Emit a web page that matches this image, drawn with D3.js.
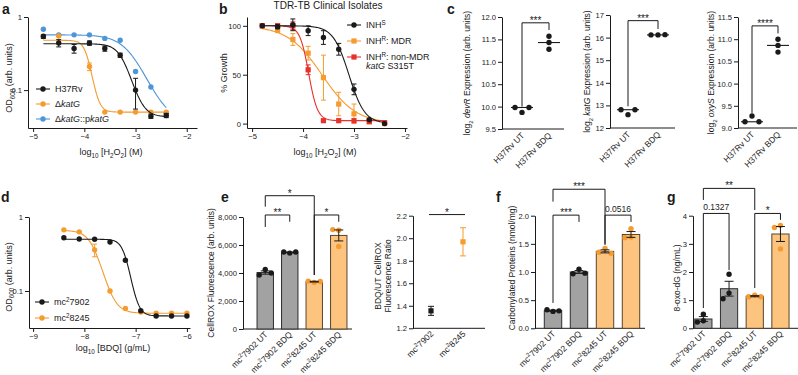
<!DOCTYPE html>
<html><head><meta charset="utf-8">
<script src="https://cdn.jsdelivr.net/npm/d3@7"></script>
<style>
body{margin:0;background:#fff}
svg{font-family:"Liberation Sans",Arial,Helvetica,sans-serif;fill:#1a1a1a}
.axis path,.axis line{stroke:#1a1a1a;stroke-width:1}
.axis text{font-size:7.6px;font-family:"Liberation Sans",Arial,sans-serif;fill:#1a1a1a}
</style></head><body>
<script>
// ---------------- data ----------------
// a : OD600 vs log10 [H2O2]
const aDose = [-4.8,-4.5,-4.2,-3.9,-3.6,-3.3,-3.0,-2.7,-2.4];
const aH37Rv    = [0.54,0.44,0.37,0.44,0.37,0.30,0.10,0.044,0.045];
const aH37RvErr = [0.03,0.05,0.05,0.03,0.03,0.02,0.045,0.003,0.003];
const aKatG     = [0.55,0.55,null,0.21,0.05,0.05,0.05,0.05,0.05];
const aKatGErr  = [0,0,0,0.025,0,0,0,0,0];
const aComp     = [0.68,0.57,0.57,0.57,0.51,0.48,0.18,0.11,0.048];
// fitted curves: top, bottom, logIC50, hill slope
const aFitH37Rv = [0.43,0.043,-3.22,3.5];
const aFitKatG  = [0.48,0.05,-3.93,6];
const aFitComp  = [0.57,0.035,-3.08,2.0];

// b : % growth of clinical isolates
const bDose = [-4.8,-4.5,-4.2,-3.9,-3.6,-3.3,-3.0,-2.7,-2.4];
const bS      = [100,99,101,95,88,76,35,4,0];
const bSErr   = [0,2,6,5,7,6,5.5,1,0];
const bMDR    = [100,96,86,72,47,20,10,2,0];
const bMDRErr = [0,3,6,7,23,12,10,2,0];
const bNon    = [100,100,100,55,3,3,3,2,1];
const bNonErr = [0,2,4,5,1,0,0,0,0];
const bFitS   = [100,0,-3.1,2.8];
const bFitMDR = [100,0,-3.63,1.3];
const bFitNon = [100,3,-3.89,5];

// c : log2 expression
const cCats = ["H37Rv UT","H37Rv BDQ"];
const cDevR = [[9.87,9.98,9.98],[11.57,11.43,11.28]];
const cKatG = [[12.59,12.81,12.81],[16.12,16.12,16.13]];
const cOxyS = [[9.27,9.14,9.14],[11.00,10.86,10.71]];
// bracket: top, left leg end, right leg end, label
const cDevRSig = [11.87,10.0,11.71,"***"];
const cKatGSig = [16.75,12.96,16.38,"***"];
const cOxySSig = [11.30,9.34,11.13,"****"];

// d : OD600 vs log10 [BDQ]
const dDose = [-8.4,-8.1,-7.8,-7.5,-7.2,-6.9,-6.6,-6.3,-6.0];
const d7902 = [0.525,0.505,0.50,0.46,0.26,0.054,0.046,0.046,0.046];
const d8245 = [0.67,0.63,0.36,0.10,0.058,0.052,0.05,0.05,0.05];
const d8245Err = [0,0,0.07,0,0,0,0,0,0];
const dFit7902 = [0.50,0.046,-7.19,5.5];
const dFit8245 = [0.66,0.05,-7.8,3.5];

// e/f/g : bar charts with replicate points
const barCats = ["mc^{2}7902 UT","mc^{2}7902 BDQ","mc^{2}8245 UT","mc^{2}8245 BDQ"];
const eVals = [[4250,3850,4000],[5420,5500,5500],[3330,3420,3390],[7050,5900,7100]];
const eSig  = [[0,2,9521,8736,3857,"*"],[0,1,8143,7286,7660,"**"],[2,3,8143,3857,7660,"*"]];
const ratioCats = ["mc^{2}7902","mc^{2}8245"];
const ratioMean = [1.355,1.968];
const ratioSem  = [0.04,0.125];
const fVals = [[0.30,0.33,0.31],[1.05,0.97,0.98],[1.42,1.35,1.33],[1.77,1.62,1.61]];
const fSig  = [[0,2,2.47,2.25,1.48,"***"],[0,1,2.01,0.45,1.89,"***"],[2,3,2.01,1.50,1.89,"0.0516"]];
const gVals = [[0.50,0.27,0.22],[1.92,1.25,1.05],[1.18,1.12,1.12],[3.65,3.58,2.82]];
const gSig  = [[0,2,4.97,4.56,4.2,"**"],[0,1,4.08,0.72,2.07,"0.1327"],[2,3,4.08,1.43,3.85,"*"]];

// ---------------- styles ----------------
const BLACK="#1a1a1a", ORANGE="#f59b2f", BLUE="#4e96d8", RED="#e8302c";
const GREY="#a2a2a2", LORANGE="#fdc47f";
const barFill = [GREY,GREY,LORANGE,LORANGE];
const barDot = [BLACK,BLACK,ORANGE,ORANGE];
const barEdge = ["#2e2e2e","#2e2e2e","#5a4529","#5a4529"];

const svg = d3.select("body").append("svg").attr("width",798).attr("height",375);

// text with _{sub} ^{sup} *italic*
function rich(t, str, fs){
  const re=/(_\{[^}]*\}|\^\{[^}]*\}|\*[^*]+\*)/g;
  let shift=0;
  str.split(re).filter(s=>s).forEach(tok=>{
    const s=t.append("tspan"); let want=0, txt=tok;
    if(tok.startsWith("_{")){want=fs*0.3; txt=tok.slice(2,-1); s.attr("font-size",fs*0.7);}
    else if(tok.startsWith("^{")){want=-fs*0.4; txt=tok.slice(2,-1); s.attr("font-size",fs*0.7);}
    else if(/^\*[^*]+\*$/.test(tok)){txt=tok.slice(1,-1); s.attr("font-style","italic");}
    if(want-shift!==0) s.attr("dy",want-shift);
    shift=want; s.text(txt);
  });
  return t;
}
function label(x,y,str,fs,opt){
  opt=opt||{};
  const t=svg.append("text").attr("font-size",fs).attr("text-anchor",opt.anchor||"middle")
    .attr("transform",`translate(${x},${y})`+(opt.rot?` rotate(${opt.rot})`:""));
  if(opt.bold) t.attr("font-weight","bold");
  if(opt.plain) return t.text(str);
  return rich(t,str,fs);
}
function yAxis(y,x,ticks,fmt){
  svg.append("g").attr("class","axis").attr("transform",`translate(${x},0)`)
    .call(d3.axisLeft(y).tickValues(ticks).tickFormat(fmt).tickSize(4).tickPadding(2).tickSizeOuter(0));
}
function xAxis(x,y,ticks,fmt){
  svg.append("g").attr("class","axis").attr("transform",`translate(0,${y})`)
    .call(d3.axisBottom(x).tickValues(ticks).tickFormat(fmt).tickSize(4).tickPadding(2).tickSizeOuter(0));
}
function hline(x1,x2,y){
  svg.append("line").attr("x1",x1).attr("x2",x2).attr("y1",y).attr("y2",y).attr("stroke",BLACK);
}
function marker(g,cx,cy,color,shape){
  if(shape==="sq") g.append("rect").attr("x",cx-2.6).attr("y",cy-2.6).attr("width",5.2).attr("height",5.2).attr("fill",color);
  else g.append("circle").attr("cx",cx).attr("cy",cy).attr("r",2.7).attr("fill",color);
}
function errBar(g,x0,y1,y2,color,w){
  g.append("path").attr("d",`M${x0-w},${y1}H${x0+w}M${x0},${y1}V${y2}M${x0-w},${y2}H${x0+w}`)
    .attr("stroke",color).attr("fill","none").attr("stroke-width",1);
}
function sigmoid(p,v){ return p[1]+(p[0]-p[1])/(1+Math.pow(10,(v-p[2])*p[3])); }
function doseSeries(x,y,dose,vals,errs,fit,color,shape){
  const g=svg.append("g");
  const xs=d3.range(dose[0],dose[dose.length-1]+0.001,0.02);
  g.append("path").datum(xs).attr("fill","none").attr("stroke",color).attr("stroke-width",1.1)
    .attr("d",d3.line().x(d=>x(d)).y(d=>y(sigmoid(fit,d))));
  dose.forEach((d,i)=>{
    if(vals[i]==null) return;
    const e=errs?errs[i]:0;
    if(e>0) errBar(g,x(d),y(vals[i]+e),y(Math.max(vals[i]-e,y.domain()[0])),color,2.5);
    marker(g,x(d),y(vals[i]),color,shape);
  });
}
function legendRow(x0,yy,color,shape,str,fs){
  svg.append("line").attr("x1",x0).attr("x2",x0+14).attr("y1",yy).attr("y2",yy).attr("stroke",color).attr("stroke-width",1.1);
  marker(svg,x0+7,yy,color,shape);
  label(x0+19,yy+3.2,str,fs,{anchor:"start"});
}
// simple beeswarm: spread overlapping points sideways
function swarm(vals,y,cx,minD,step){
  const placed=[];
  return vals.map(v=>{
    const py=y(v), cands=[0];
    for(let k=1;k<6;k++) cands.push(-k*step,k*step);
    for(const dx of cands){
      if(placed.every(p=>Math.hypot(p[0]-dx,p[1]-py)>=minD)){placed.push([dx,py]);return [cx+dx,py];}
    }
  });
}
function bracket(x1,x2,yTop,y1,y2,txt){
  svg.append("path").attr("d",`M${x1},${y1}V${yTop}H${x2}V${y2}`).attr("fill","none").attr("stroke",BLACK);
  const star=txt.startsWith("*");
  label((x1+x2)/2, star? yTop+1 : yTop-3, txt, star?10:8.5,{plain:true});
}
function catLabels(x,cats,axisY,fs){
  cats.forEach(c=>label(x(c)+3,axisY+7,c,fs,{anchor:"end",rot:-45}));
}

// ---------------- panel a ----------------
{
  const x=d3.scaleLinear().domain([-5.1,-1.8]).range([28,197]);
  const y=d3.scaleLog().domain([0.0303,1]).range([128,17]);
  yAxis(y,28,[0.1,1],d3.format("~g"));
  xAxis(x,128,[-5,-4,-3,-2],d3.format("d"));
  doseSeries(x,y,aDose,aComp,null,aFitComp,BLUE,"c");
  doseSeries(x,y,aDose,aKatG,aKatGErr,aFitKatG,ORANGE,"c");
  doseSeries(x,y,aDose,aH37Rv,aH37RvErr,aFitH37Rv,BLACK,"c");
  legendRow(36,89,BLACK,"c","H37Rv",9);
  legendRow(36,104,ORANGE,"c","Δ*katG*",9);
  legendRow(36,119,BLUE,"c","Δ*katG*::p*katG*",9);
  label(12,78,"OD_{600} (arb. units)",9,{rot:-90});
  label(111,155,"log_{10} [H_{2}O_{2}] (M)",9);
  label(2,14,"a",14,{anchor:"start",bold:true,plain:true});
}
// ---------------- panel b ----------------
{
  const x=d3.scaleLinear().domain([-5.1,-1.96]).range([247,407]);
  const y=d3.scaleLinear().domain([-4.5,109]).range([128,17]);
  yAxis(y,247,[0,50,100],d3.format("d"));
  xAxis(x,128,[-5,-4,-3,-2],d3.format("d"));
  doseSeries(x,y,bDose,bMDR,bMDRErr,bFitMDR,ORANGE,"sq");
  doseSeries(x,y,bDose,bNon,bNonErr,bFitNon,RED,"sq");
  doseSeries(x,y,bDose,bS,bSErr,bFitS,BLACK,"c");
  legendRow(347,25,BLACK,"c","INH^{S}",9);
  legendRow(347,41,ORANGE,"sq","INH^{R}: MDR",9);
  legendRow(347,57,RED,"sq","INH^{R}: non-MDR",9);
  label(366,69,"*katG* S315T",9,{anchor:"start"});
  label(227,73,"% Growth",9,{rot:-90,plain:true});
  label(325,155,"log_{10} [H_{2}O_{2}] (M)",9);
  label(328,9,"TDR-TB Clinical Isolates",10,{plain:true});
  label(219,14,"b",14,{anchor:"start",bold:true,plain:true});
}
// ---------------- panel c ----------------
function scatterPanel(vals,sig,cfg){
  const y=d3.scaleLinear().domain(cfg.dom).range([cfg.bottom,cfg.top]);
  const x=d3.scalePoint().domain(cCats).range(cfg.cx);
  yAxis(y,cfg.ax,cfg.ticks,d3.format(cfg.fmt));
  hline(cfg.ax,cfg.end,cfg.bottom);
  cCats.forEach((c,i)=>{
    const med=d3.median(vals[i]);
    svg.append("line").attr("x1",x(c)-11).attr("x2",x(c)+11).attr("y1",y(med)).attr("y2",y(med)).attr("stroke",BLACK).attr("stroke-width",1.1);
    swarm(vals[i],y,x(c),6,7).forEach(p=>marker(svg,p[0],p[1],BLACK,"c"));
  });
  bracket(x(cCats[0]),x(cCats[1]),y(sig[0]),y(sig[1]),y(sig[2]),sig[3]);
  catLabels(x,cCats,cfg.bottom,8.5);
  label(cfg.lx,(cfg.top+cfg.bottom)/2,cfg.title,8.5,{rot:-90});
}
scatterPanel(cDevR,cDevRSig,{dom:[9.5,12],bottom:129,top:17,cx:[522,549],ax:502,end:564,
  ticks:[9.5,10,10.5,11,11.5,12],fmt:".1f",lx:470,title:"log_{2} *devR* Expression (arb. units)"});
scatterPanel(cKatG,cKatGSig,{dom:[12,17],bottom:128,top:15,cx:[628,658],ax:610,end:675,
  ticks:[12,13,14,15,16,17],fmt:"d",lx:590,title:"log_{2} *katG* Expression (arb. units)"});
scatterPanel(cOxyS,cOxySSig,{dom:[9,11.5],bottom:128,top:17,cx:[752,778],ax:738,end:797,
  ticks:[9,9.5,10,10.5,11,11.5],fmt:".1f",lx:714,title:"log_{2} *oxyS* Expression (arb. units)"});
label(447,14,"c",14,{anchor:"start",bold:true,plain:true});

// ---------------- panel d ----------------
{
  const x=d3.scaleLinear().domain([-9.08,-5.94]).range([29,190]);
  const y=d3.scaleLog().domain([0.0316,1]).range([328,217]);
  yAxis(y,29,[0.1,1],d3.format("~g"));
  xAxis(x,328,[-9,-8,-7,-6],d3.format("d"));
  doseSeries(x,y,dDose,d8245,d8245Err,dFit8245,ORANGE,"c");
  doseSeries(x,y,dDose,d7902,null,dFit7902,BLACK,"c");
  legendRow(35,302,BLACK,"c","mc^{2}7902",9);
  legendRow(35,318,ORANGE,"c","mc^{2}8245",9);
  label(11.5,277,"OD_{600} (arb. units)",9,{rot:-90});
  label(113,351,"log_{10} [BDQ] (g/mL)",9);
  label(1,202,"d",14,{anchor:"start",bold:true,plain:true});
}
// ---------------- bar panels ----------------
function barPanel(vals,sig,cfg){
  const y=d3.scaleLinear().domain(cfg.dom).range([cfg.bottom,cfg.top]);
  const x=d3.scaleBand().domain(barCats).range(cfg.range).paddingInner(0.33).paddingOuter(0.165);
  yAxis(y,cfg.ax,cfg.ticks,cfg.fmt);
  hline(cfg.ax,cfg.end,cfg.bottom);
  barCats.forEach((c,i)=>{
    const v=vals[i], m=d3.mean(v), se=d3.deviation(v)/Math.sqrt(v.length);
    const cx=x(c)+x.bandwidth()/2;
    svg.append("rect").attr("x",x(c)).attr("width",x.bandwidth()).attr("y",y(m)).attr("height",y(0)-y(m))
      .attr("fill",barFill[i]).attr("stroke",barEdge[i]).attr("stroke-width",1);
    swarm(v,y,cx,6,6).forEach(p=>marker(svg,p[0],p[1],barDot[i],"c"));
    errBar(svg,cx,y(m+se),y(m-se),BLACK,4.5);
  });
  const xc=i=>x(barCats[i])+x.bandwidth()/2;
  sig.forEach(s=>bracket(xc(s[0]),xc(s[1]),y(s[2]),y(s[3]),y(s[4]),s[5]));
  barCats.forEach(c=>label(x(c)+x.bandwidth()/2+3,cfg.bottom+6,c,8.5,{anchor:"end",rot:-45}));
  label(cfg.lx,cfg.ly,cfg.title,8.5,{rot:-90,plain:true});
}
barPanel(eVals,eSig,{dom:[0,8000],bottom:329,top:217,range:[253,351],ax:243,end:352,
  ticks:[0,2000,4000,6000,8000],fmt:d3.format(","),lx:214,ly:273,title:"CellROX Fluorescence (arb. units)"});
barPanel(fVals,fSig,{dom:[0,2],bottom:328.3,top:215.7,range:[540,644],ax:535,end:645,
  ticks:[0,0.5,1,1.5,2],fmt:d3.format(".1f"),lx:515,ly:268,title:"Carbonylated Proteins (nmol/mg)"});
barPanel(gVals,gSig,{dom:[0,4],bottom:328.3,top:215.7,range:[690.5,793.3],ax:693,end:798,
  ticks:[0,1,2,3,4],fmt:d3.format("d"),lx:680,ly:278,title:"8-oxo-dG (ng/mL)"});
label(221,202,"e",14,{anchor:"start",bold:true,plain:true});
label(496,202,"f",14,{anchor:"start",bold:true,plain:true});
label(667,202,"g",14,{anchor:"start",bold:true,plain:true});

// ---------------- ratio panel ----------------
{
  const y=d3.scaleLinear().domain([1.2,2.2]).range([328.3,215.7]);
  const x=d3.scalePoint().domain(ratioCats).range([431,463]);
  yAxis(y,413,[1.2,1.4,1.6,1.8,2.0,2.2],d3.format(".1f"));
  hline(413,485,328.3);
  const cols=[BLACK,ORANGE];
  ratioCats.forEach((c,i)=>{
    errBar(svg,x(c),y(ratioMean[i]+ratioSem[i]),y(ratioMean[i]-ratioSem[i]),cols[i],3);
    marker(svg,x(c),y(ratioMean[i]),cols[i],"sq");
  });
  hline(x(ratioCats[0])-2,x(ratioCats[1])+2,y(2.21));
  label((x(ratioCats[0])+x(ratioCats[1]))/2,y(2.21)+1,"*",10,{plain:true});
  ratioCats.forEach(c=>label(x(c)+3,334.3,c,8.5,{anchor:"end",rot:-45}));
  label(381,276,"BDQ/UT CellROX",8.5,{rot:-90,plain:true});
  label(391,276,"Fluorescence Ratio",8.5,{rot:-90,plain:true});
}
</script></body></html>
